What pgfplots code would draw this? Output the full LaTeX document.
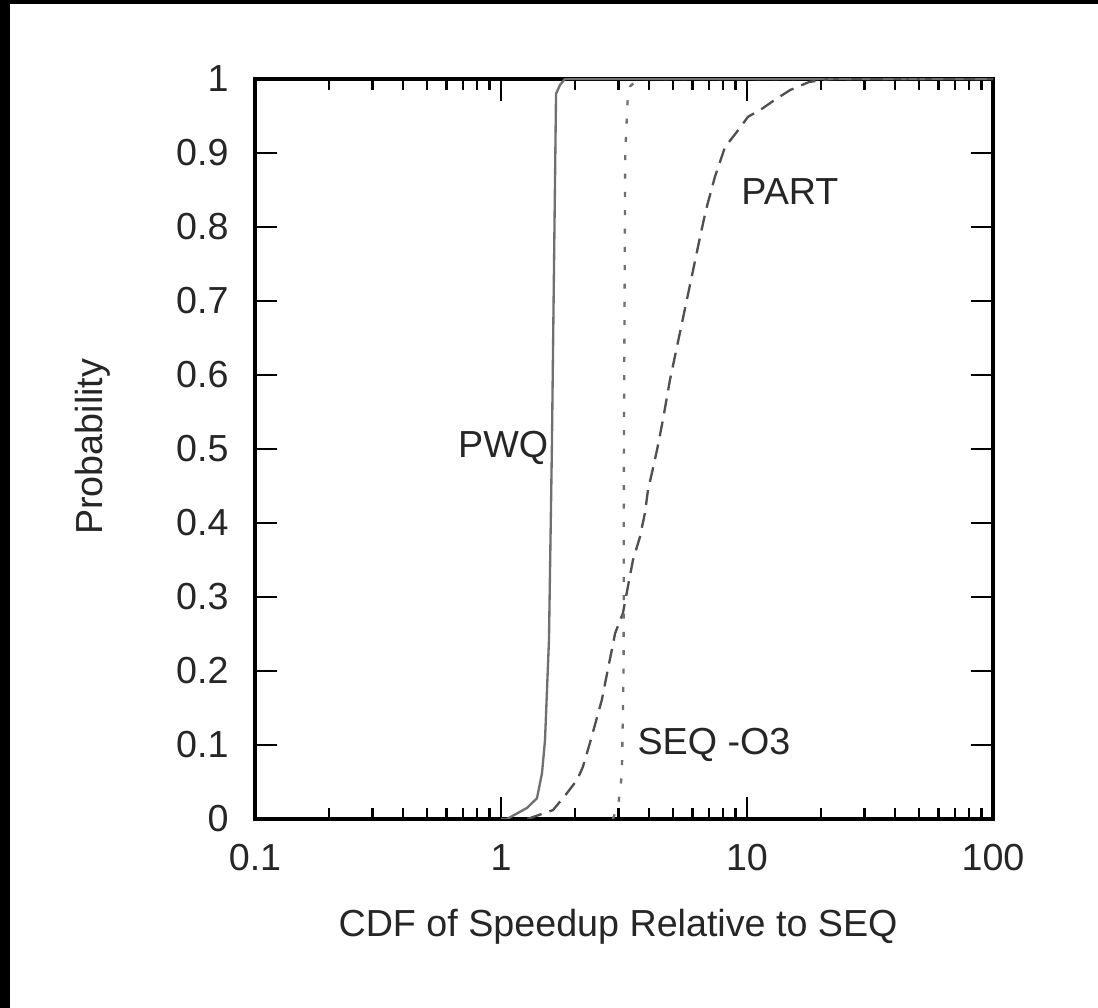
\documentclass[border=0pt]{standalone}
\usepackage{fontspec}
\setmainfont{Liberation Sans}
\usepackage{pgfplots}
\pgfplotsset{compat=1.18}
\definecolor{pwqc}{HTML}{707070}
\definecolor{partc}{HTML}{505050}
\definecolor{seqc}{HTML}{707070}
\begin{document}
\begin{tikzpicture}[x=1pt,y=1pt]
\fill[white] (0,0) rectangle (329.4,302.4);
\useasboundingbox (0,0) rectangle (329.4,302.4);
\fill[black] (0,0) rectangle (3,302.4);
\fill[black] (0,301.2) rectangle (329.4,302.4);
\begin{axis}[
  at={(76.5pt,56.7pt)}, anchor=south west,
  scale only axis, width=221.4pt, height=222pt,
  xmode=log, xmin=0.1, xmax=100, ymin=0, ymax=1,
  xtick={0.1,1,10,100}, xticklabels={0.1,1,10,100},
  minor xtick={0.2,0.3,0.4,0.5,0.6,0.7,0.8,0.9,2,3,4,5,6,7,8,9,20,30,40,50,60,70,80,90},
  ytick={0,0.1,0.2,0.3,0.4,0.5,0.6,0.7,0.8,0.9,1},
  yticklabels={0,0.1,0.2,0.3,0.4,0.5,0.6,0.7,0.8,0.9,1},
  tick align=inside, xtick pos=both, ytick pos=both,
  major tick length=6.6pt, minor tick length=3.3pt,
  every tick/.style={black, line width=0.8pt},
  axis line style={line width=1.2pt, black},
  /pgf/number format/assume math mode=true,
  ticklabel style={font=\fontsize{11.3}{13}\selectfont, text=black!85},
  xticklabel style={yshift=-4pt},
  yticklabel style={xshift=-4.4pt},
  label style={font=\fontsize{11.3}{13}\selectfont, text=black!85},
  xlabel={CDF of Speedup Relative to SEQ},
  ylabel={Probability},
  xlabel style={at={(axis description cs:0.492,-0.145)}, anchor=center},
  ylabel style={at={(axis description cs:-0.2195,0.503)}, anchor=center},
  clip=true,
]
\addplot[pwqc, line width=0.7pt] coordinates {
(1.0,0) (1.058,0) (1.276,0.015) (1.40,0.028) (1.468,0.062) (1.51,0.107)
(1.538,0.174) (1.567,0.242) (1.61,0.5) (1.674,0.98) (1.738,0.992) (1.82,1) (100,1)
};
\addplot[partc, line width=0.7pt, dash pattern=on 4.5pt off 2.5pt] coordinates {
(1.28,0) (1.627,0.012) (1.855,0.035) (2.04,0.053) (2.15,0.07) (2.30,0.103)
(2.46,0.138) (2.57,0.161) (2.70,0.197) (2.91,0.251) (3.13,0.278) (3.28,0.314)
(3.44,0.35) (3.67,0.381) (3.85,0.414) (3.96,0.445) (4.11,0.468) (4.31,0.499)
(4.55,0.539) (4.86,0.593) (5.6,0.69) (6.44,0.786) (6.81,0.823) (7.41,0.868)
(8.14,0.908) (9.02,0.927) (10.1,0.949) (11.3,0.958) (13.0,0.972) (14.96,0.985)
(17.9,0.996) (21.8,1) (100,1)
};
\addplot[seqc, line width=0.7pt, dash pattern=on 1.5pt off 4pt] coordinates {
(2.85,0) (3.0,0.02) (3.1,0.06) (3.15,0.2) (3.16,0.5) (3.2,0.9) (3.27,0.97)
(3.35,0.99) (3.6,1) (100,1)
};
\node[anchor=base, font=\fontsize{11.3}{13}\selectfont, text=black!85] at (axis cs:1.02,0.488) {PWQ};
\node[anchor=base, font=\fontsize{11.3}{13}\selectfont, text=black!85] at (axis cs:14.95,0.831) {PART};
\node[anchor=base, font=\fontsize{11.3}{13}\selectfont, text=black!85] at (axis cs:7.34,0.0865) {SEQ -O3};
\end{axis}
\end{tikzpicture}
\end{document}
